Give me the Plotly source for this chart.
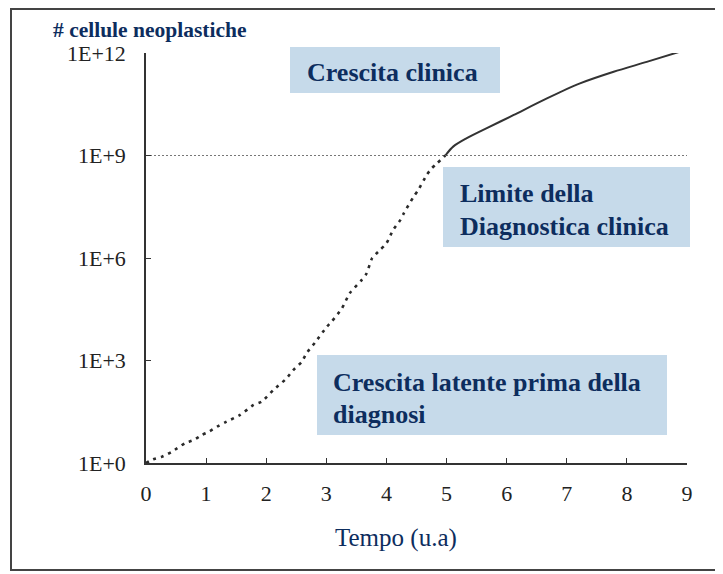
import plotly.graph_objects as go

# --- data ---
latent_t = [0.0, 0.12, 0.26, 0.43, 0.65, 0.79, 0.93, 1.05, 1.20, 1.34, 1.56, 1.79, 1.92, 2.12,
            2.34, 2.45, 2.59, 2.67, 2.81, 3.01, 3.09, 3.26, 3.39, 3.59, 3.67, 3.76, 3.89, 4.00,
            4.11, 4.23, 4.29, 4.45, 4.53, 4.67, 4.75, 4.84, 4.98]
latent_exp = [0.0, 0.11, 0.18, 0.33, 0.58, 0.67, 0.82, 0.92, 1.08, 1.21, 1.40, 1.70, 1.79, 2.14,
              2.48, 2.72, 2.96, 3.21, 3.52, 3.99, 4.14, 4.53, 4.97, 5.36, 5.55, 5.99, 6.23, 6.43,
              6.82, 7.11, 7.31, 7.79, 7.99, 8.43, 8.62, 8.77, 9.0]
clinical_t = [4.98, 5.11, 5.33, 5.67, 6.11, 6.67, 7.22, 7.78, 8.33, 8.94]
clinical_exp = [9.0, 9.26, 9.50, 9.80, 10.18, 10.67, 11.11, 11.45, 11.74, 12.07]
limit_t = [0, 9]
limit_exp = [9, 9]
y_tick_exp = [0, 3, 6, 9, 12]
y_tick_text = ["1E+0", "1E+3", "1E+6", "1E+9", "1E+12"]
x_ticks = list(range(0, 10))

NAVY = "#0d2d5e"
BOXC = "#c6daea"
SERIF = "Liberation Serif"

fig = go.Figure()
fig.add_trace(go.Scatter(x=limit_t, y=[10 ** e for e in limit_exp], mode="lines",
                         line=dict(color="#777777", width=1, dash="2px,2px"),
                         hoverinfo="skip", showlegend=False))
fig.add_trace(go.Scatter(x=latent_t, y=[10 ** e for e in latent_exp], mode="lines",
                         line=dict(color="#2a2a2a", width=2.6, dash="3px,5px", shape="spline",
                                   smoothing=0.6),
                         showlegend=False, cliponaxis=False))
fig.add_trace(go.Scatter(x=clinical_t, y=[10 ** e for e in clinical_exp], mode="lines",
                         line=dict(color="#333333", width=2, shape="spline", smoothing=0.8),
                         showlegend=False, cliponaxis=False))

OFF = 8  # page body margin
W, H = 723 - OFF, 574 - OFF
L = 146 - OFF
T = 53 - OFF
R = W - (687 - OFF)
B = H - (463 - OFF)
pw, ph = W - L - R, H - T - B


def px(x):
    return (x - OFF - L) / pw


def py(y):
    return (H - B - (y - OFF)) / ph


shapes = [
    dict(type="rect", xref="paper", yref="paper", x0=px(11), x1=px(719), y0=py(570), y1=py(9),
         line=dict(color="#444444", width=2), fillcolor="rgba(0,0,0,0)", layer="below"),
    dict(type="rect", xref="paper", yref="paper", x0=px(290), x1=px(500), y0=py(93), y1=py(47),
         line=dict(width=0), fillcolor=BOXC, layer="below"),
    dict(type="rect", xref="paper", yref="paper", x0=px(443), x1=px(690), y0=py(247), y1=py(167),
         line=dict(width=0), fillcolor=BOXC, layer="below"),
    dict(type="rect", xref="paper", yref="paper", x0=px(317), x1=px(667), y0=py(435), y1=py(355),
         line=dict(width=0), fillcolor=BOXC, layer="below"),
]


def lab(text, x, y, size=26, bold=True, xanchor="left"):
    t = f"<b>{text}</b>" if bold else text
    return dict(text=t, xref="paper", yref="paper", x=px(x), y=py(y), xanchor=xanchor,
                yanchor="middle", showarrow=False, font=dict(family=SERIF, size=size, color=NAVY))


annotations = [
    lab("Crescita clinica", 305, 72),
    lab("Limite della", 458, 193),
    lab("Diagnostica clinica", 458, 226),
    lab("Crescita latente prima della", 331, 382),
    lab("diagnosi", 331, 414),
    lab("# cellule neoplastiche", 51, 30, size=21.5),
    lab("Tempo (u.a)", 396, 538, size=25, bold=False, xanchor="center"),
]

fig.update_layout(
    width=W, height=H, margin=dict(l=L, r=R, t=T, b=B),
    paper_bgcolor="white", plot_bgcolor="white",
    shapes=shapes, annotations=annotations, showlegend=False,
    font=dict(family=SERIF, size=22, color="#222222"),
)
fig.update_xaxes(range=[0, 9], tickvals=x_ticks, ticks="inside", ticklen=5, tickcolor="#333333",
                 showline=True, linecolor="#333333", linewidth=1.5, showgrid=False, zeroline=False,
                 ticklabelstandoff=10, tickfont=dict(family=SERIF, size=22, color="#222222"))
fig.update_yaxes(type="log", range=[0, 12], tickvals=[10 ** e for e in y_tick_exp], ticktext=y_tick_text,
                 ticks="inside", ticklen=5, tickcolor="#333333",
                 showline=True, linecolor="#333333", linewidth=1.5, showgrid=False, zeroline=False,
                 ticklabelstandoff=14, tickfont=dict(family=SERIF, size=22, color="#222222"))

fig.write_html("out.html")
